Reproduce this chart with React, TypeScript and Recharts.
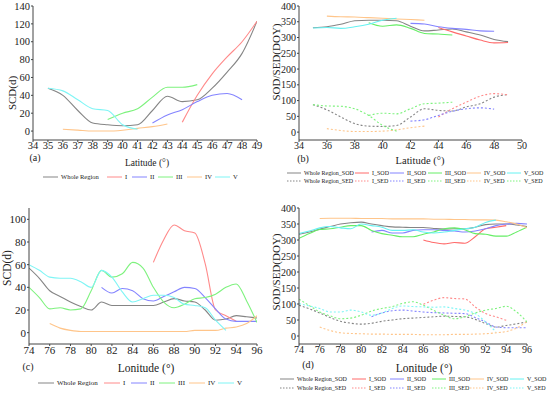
import { Line, LineChart, XAxis, YAxis } from "recharts";

// ---- latitude panels (a, b) ----
const latWhole = [35, 36, 37, 38, 39, 40, 41, 42, 43, 44, 45, 46, 47, 48, 49];
const latI = [44, 45, 46, 47, 48, 49];
const latII = [42, 43, 44, 45, 46, 47, 48];
const latIII = [39, 40, 41, 42, 43, 44, 45];
const latIV = [36, 37, 38, 39, 40, 41, 42, 43];
const latV = [35, 36, 37, 38, 39, 40, 41];
const latTicksA = [34, 35, 36, 37, 38, 39, 40, 41, 42, 43, 44, 45, 46, 47, 48, 49];
const latTicksB = [34, 36, 38, 40, 42, 44, 46, 48, 50];

const scdLatWhole = [48, 40, 23, 9, 7, 6, 7, 23, 39, 33, 35, 48, 66, 87, 123];
const scdLatI = [10, 40, 64, 83, 100, 123];
const scdLatII = [9, 18, 24, 33, 40, 42, 35];
const scdLatIII = [13, 20, 25, 38, 49, 49, 52];
const scdLatIV = [2, 1, 0, 0, 1, 3, 5, 8];
const scdLatV = [48, 45, 35, 25, 23, 7, 2];

const sodLatWhole = [331, 334, 342, 353, 355, 355, 353, 336, 321, 324, 327, 318, 308, 294, 287];
const sodLatI = [332, 318, 305, 292, 283, 284];
const sodLatII = [345, 343, 334, 329, 326, 321, 320];
const sodLatIII = [347, 336, 340, 329, 313, 311, 308];
const sodLatIV = [368, 366, 365, 363, 361, 359, 357, 355];
const sodLatV = [330, 332, 329, 334, 342, 355, 361];

const sedLatWhole = [87, 71, 48, 27, 19, 18, 21, 48, 74, 69, 67, 80, 90, 111, 119];
const sedLatI = [48, 74, 95, 114, 122, 118];
const sedLatII = [35, 39, 53, 66, 74, 77, 73];
const sedLatIII = [53, 60, 58, 74, 90, 92, 95];
const sedLatIV = [11, 5, 2, 2, 3, 7, 14, 19];
const sedLatV = [87, 83, 82, 74, 53, 21, 3];

// ---- longitude panels (c, d) ----
const lonWhole = [74, 75, 76, 77, 78, 79, 80, 81, 82, 83, 84, 85, 86, 87, 88, 89, 90, 91, 92, 93, 94, 95, 96];
const lonI = [86, 87, 88, 89, 90, 91, 92, 93, 94];
const lonII = [81, 82, 83, 84, 85, 86, 87, 88, 89, 90, 91, 92, 93, 94, 95, 96];
const lonIII = [74, 75, 76, 77, 78, 79, 80, 81, 82, 83, 84, 85, 86, 87, 88, 89, 90, 91, 92, 93, 94, 95, 96];
const lonIV = [76, 77, 78, 79, 80, 81, 82, 83, 84, 85, 86, 87, 88, 89, 90, 91, 92, 93, 94, 95, 96];
const lonV = [74, 75, 76, 77, 78, 79, 80, 81, 82, 83, 84, 85, 86, 87, 88, 89, 90, 91, 92, 93];
const lonTicks = [74, 76, 78, 80, 82, 84, 86, 88, 90, 92, 94, 96];

const scdLonWhole = [57, 48, 37, 32, 27, 23, 20, 27, 24, 24, 24, 24, 24, 27, 30, 28, 27, 20, 11, 12, 15, 14, 13];
const scdLonI = [62, 82, 95, 90, 88, 61, 20, 15, 10];
const scdLonII = [40, 35, 39, 37, 30, 28, 32, 36, 40, 39, 31, 21, 12, 10, 10, 10];
const scdLonIII = [40, 31, 21, 22, 20, 21, 37, 55, 49, 52, 62, 57, 40, 27, 22, 25, 30, 31, 34, 40, 43, 28, 9];
const scdLonIV = [8, 4, 2, 1, 1, 1, 1, 1, 1, 1, 1, 1, 1, 1, 2, 2, 2, 4, 5, 8, 15];
const scdLonV = [60, 55, 49, 48, 48, 45, 40, 55, 49, 36, 27, 30, 33, 33, 31, 25, 24, 22, 11, 2];

const sodLonWhole = [318, 325, 334, 342, 350, 354, 356, 350, 345, 341, 340, 339, 339, 336, 334, 335, 335, 340, 348, 350, 350, 347, 342];
const sodLonI = [300, 292, 288, 292, 290, 310, 335, 340, 345];
const sodLonII = [325, 330, 322, 322, 330, 332, 332, 330, 328, 325, 328, 335, 345, 350, 352, 350];
const sodLonIII = [305, 320, 333, 335, 340, 345, 345, 330, 320, 315, 310, 310, 318, 325, 335, 338, 332, 320, 318, 312, 312, 325, 340];
const sodLonIV = [367, 368, 368, 368, 367, 367, 367, 366, 366, 366, 366, 365, 365, 364, 364, 363, 363, 362, 357, 350, 338];
const sodLonV = [320, 328, 338, 342, 338, 335, 350, 345, 340, 330, 330, 332, 325, 322, 325, 330, 335, 340, 355, 362];

const sedLonWhole = [96, 85, 72, 58, 46, 40, 37, 40, 46, 50, 54, 56, 58, 60, 62, 61, 60, 52, 39, 28, 33, 38, 44];
const sedLonI = [99, 112, 120, 117, 116, 91, 70, 60, 49];
const sedLonII = [60, 72, 79, 81, 78, 75, 73, 72, 71, 70, 58, 44, 28, 26, 26, 26];
const sedLonIII = [115, 95, 75, 63, 54, 56, 65, 78, 86, 92, 102, 107, 96, 80, 65, 54, 60, 72, 81, 86, 93, 75, 44];
const sedLonIV = [28, 17, 10, 8, 7, 6, 6, 5, 5, 5, 4, 4, 4, 5, 5, 6, 7, 10, 14, 25, 45];
const sedLonV = [101, 94, 86, 75, 75, 81, 75, 65, 72, 86, 94, 92, 91, 90, 91, 86, 81, 70, 44, 13];

const font = "'Liberation Serif', 'DejaVu Serif', serif";
const ink = "#222";

const C = {
  whole: "#858585",
  I: "#ff8a8a",
  II: "#8484ff",
  III: "#7ef27e",
  IV: "#ffc58a",
  V: "#7ff5f5",
};

type Series = { name: string; data: { x: number; y: number }[]; color: string; dashed?: boolean };

const pts = (xs: number[], ys: number[]) => xs.map((x, i) => ({ x, y: ys[i] }));

const seriesA: Series[] = [
  { name: "Whole Region", data: pts(latWhole, scdLatWhole), color: C.whole },
  { name: "I", data: pts(latI, scdLatI), color: C.I },
  { name: "II", data: pts(latII, scdLatII), color: C.II },
  { name: "III", data: pts(latIII, scdLatIII), color: C.III },
  { name: "IV", data: pts(latIV, scdLatIV), color: C.IV },
  { name: "V", data: pts(latV, scdLatV), color: C.V },
];

const seriesB: Series[] = [
  { name: "Whole Region_SOD", data: pts(latWhole, sodLatWhole), color: C.whole },
  { name: "I_SOD", data: pts(latI, sodLatI), color: "#ff6b6b" },
  { name: "II_SOD", data: pts(latII, sodLatII), color: C.II },
  { name: "III_SOD", data: pts(latIII, sodLatIII), color: "#66ee66" },
  { name: "IV_SOD", data: pts(latIV, sodLatIV), color: C.IV },
  { name: "V_SOD", data: pts(latV, sodLatV), color: "#66f2f2" },
  { name: "Whole Region_SED", data: pts(latWhole, sedLatWhole), color: C.whole, dashed: true },
  { name: "I_SED", data: pts(latI, sedLatI), color: C.I, dashed: true },
  { name: "II_SED", data: pts(latII, sedLatII), color: C.II, dashed: true },
  { name: "III_SED", data: pts(latIII, sedLatIII), color: C.III, dashed: true },
  { name: "IV_SED", data: pts(latIV, sedLatIV), color: C.IV, dashed: true },
  { name: "V_SED", data: pts(latV, sedLatV), color: C.III, dashed: true },
];

const seriesC: Series[] = [
  { name: "Whole Region", data: pts(lonWhole, scdLonWhole), color: C.whole },
  { name: "I", data: pts(lonI, scdLonI), color: C.I },
  { name: "II", data: pts(lonII, scdLonII), color: C.II },
  { name: "III", data: pts(lonIII, scdLonIII), color: C.III },
  { name: "IV", data: pts(lonIV, scdLonIV), color: C.IV },
  { name: "V", data: pts(lonV, scdLonV), color: C.V },
];

const seriesD: Series[] = [
  { name: "Whole Region_SOD", data: pts(lonWhole, sodLonWhole), color: C.whole },
  { name: "I_SOD", data: pts(lonI, sodLonI), color: "#ff6b6b" },
  { name: "II_SOD", data: pts(lonII, sodLonII), color: C.II },
  { name: "III_SOD", data: pts(lonIII, sodLonIII), color: "#66ee66" },
  { name: "IV_SOD", data: pts(lonIV, sodLonIV), color: C.IV },
  { name: "V_SOD", data: pts(lonV, sodLonV), color: "#66f2f2" },
  { name: "Whole Region_SED", data: pts(lonWhole, sedLonWhole), color: C.whole, dashed: true },
  { name: "I_SED", data: pts(lonI, sedLonI), color: C.I, dashed: true },
  { name: "II_SED", data: pts(lonII, sedLonII), color: C.II, dashed: true },
  { name: "III_SED", data: pts(lonIII, sedLonIII), color: C.III, dashed: true },
  { name: "IV_SED", data: pts(lonIV, sedLonIV), color: C.IV, dashed: true },
  { name: "V_SED", data: pts(lonV, sedLonV), color: C.V, dashed: true },
];

function Txt({ px, py, size, text, rotate }: { px: number; py: number; size: number; text: string; rotate?: boolean }) {
  return (
    <text
      x={px}
      y={py}
      fontFamily={font}
      fontSize={size}
      fill={ink}
      textAnchor="middle"
      dominantBaseline="central"
      transform={rotate ? `rotate(-90 ${px} ${py})` : undefined}
    >
      {text}
    </text>
  );
}

function LegendItem({ s, left, top, size, len }: { s: Series; left: number; top: number; size: number; len: number }) {
  return (
    <div style={{ position: "absolute", left, top, display: "flex", alignItems: "center", whiteSpace: "nowrap" }}>
      <svg width={len} height={4} style={{ marginRight: 3 }}>
        <line x1={0} y1={2} x2={len} y2={2} stroke={s.color} strokeWidth={1} strokeDasharray={s.dashed ? "1.5 1.5" : undefined} />
      </svg>
      <span style={{ fontFamily: font, fontSize: size, color: ink, lineHeight: "8px" }}>{s.name}</span>
    </div>
  );
}

type PanelProps = {
  left: number;
  top: number;
  width: number;
  height: number;
  margin: { top: number; right: number; bottom: number; left: number };
  yWidth: number;
  xDomain: [number, number];
  xTicks: number[];
  yDomain: [number, number];
  yTicks: number[];
  tickSize: number;
  series: Series[];
  xTitle: React.ReactElement;
  yTitle: React.ReactElement;
};

function Panel(p: PanelProps) {
  const tick = { fontFamily: font, fontSize: p.tickSize, fill: ink };
  return (
    <div style={{ position: "absolute", left: p.left, top: p.top }}>
      <LineChart width={p.width} height={p.height} margin={p.margin}>
        <XAxis
          type="number"
          dataKey="x"
          domain={p.xDomain}
          ticks={p.xTicks}
          interval={0}
          allowDataOverflow
          tick={tick}
          tickSize={2}
          tickMargin={0}
          height={20}
          stroke="#444"
          label={p.xTitle}
        />
        <YAxis
          type="number"
          dataKey="y"
          domain={p.yDomain}
          ticks={p.yTicks}
          interval={0}
          allowDataOverflow
          tick={tick}
          tickSize={2}
          tickMargin={1}
          width={p.yWidth}
          stroke="#444"
          label={p.yTitle}
        />
        {p.series.map((s) => (
          <Line
            key={s.name}
            data={s.data}
            dataKey="y"
            name={s.name}
            type="monotone"
            stroke={s.color}
            strokeWidth={1.1}
            strokeDasharray={s.dashed ? "2 2" : undefined}
            dot={false}
            activeDot={false}
            isAnimationActive={false}
          />
        ))}
      </LineChart>
    </div>
  );
}

const colsB = [12, 80, 115, 153, 192, 232];
const colsD = [5, 77, 115, 157, 195, 235];
const colsA = [43, 107, 132, 158, 187, 215];
const colsC = [38, 104, 131, 159, 189, 218];

export default function App() {
  return (
    <div style={{ position: "absolute", left: 0, top: 0, width: 550, height: 394, background: "#fff", overflow: "hidden" }}>
      <Panel
        left={0}
        top={0}
        width={268}
        height={200}
        margin={{ top: 6, right: 11, bottom: 40, left: 0 }}
        yWidth={33}
        xDomain={[34, 49]}
        xTicks={latTicksA}
        yDomain={[-10, 140]}
        yTicks={[0, 20, 40, 60, 80, 100, 120, 140]}
        tickSize={10.5}
        series={seriesA}
        xTitle={
          <g>
            <Txt px={147} py={163} size={9.5} text="Latitude (°)" />
            <Txt px={35} py={157} size={10} text="(a)" />
          </g>
        }
        yTitle={<Txt px={12} py={93} size={11} text="SCD(d)" rotate />}
      />
      <Panel
        left={268}
        top={0}
        width={282}
        height={200}
        margin={{ top: 6, right: 28, bottom: 40, left: 0 }}
        yWidth={31}
        xDomain={[34, 50]}
        xTicks={latTicksB}
        yDomain={[-25, 400]}
        yTicks={[0, 50, 100, 150, 200, 250, 300, 350, 400]}
        tickSize={10}
        series={seriesB}
        xTitle={
          <g>
            <Txt px={152} py={160} size={10.5} text="Latitude (°)" />
            <Txt px={35} py={158} size={10} text="(b)" />
          </g>
        }
        yTitle={<Txt px={8} py={62} size={11} text="SOD/SED(DOY)" rotate />}
      />
      <Panel
        left={0}
        top={197}
        width={268}
        height={197}
        margin={{ top: 11, right: 11, bottom: 30, left: 0 }}
        yWidth={29}
        xDomain={[74, 96]}
        xTicks={lonTicks}
        yDomain={[-10, 110]}
        yTicks={[0, 20, 40, 60, 80, 100]}
        tickSize={11}
        series={seriesC}
        xTitle={
          <g>
            <Txt px={146} py={171} size={11.5} text="Lonitude (°)" />
            <Txt px={28} py={169} size={10} text="(c)" />
          </g>
        }
        yTitle={<Txt px={7} py={71} size={11.5} text="SCD(d)" rotate />}
      />
      <Panel
        left={268}
        top={197}
        width={282}
        height={197}
        margin={{ top: 11, right: 23, bottom: 30, left: 0 }}
        yWidth={31}
        xDomain={[74, 96]}
        xTicks={lonTicks}
        yDomain={[-25, 400]}
        yTicks={[0, 50, 100, 150, 200, 250, 300, 350, 400]}
        tickSize={10}
        series={seriesD}
        xTitle={
          <g>
            <Txt px={156} py={171} size={11.5} text="Lonitude (°)" />
            <Txt px={40} py={167} size={10} text="(d)" />
          </g>
        }
        yTitle={<Txt px={8} py={75} size={11} text="SOD/SED(DOY)" rotate />}
      />

      {seriesA.map((s, i) => (
        <LegendItem key={"a" + s.name} s={s} left={colsA[i]} top={173} size={6.5} len={15} />
      ))}
      {seriesB.map((s, i) => (
        <LegendItem key={"b" + s.name} s={s} left={275 + colsB[i % 6]} top={i < 6 ? 169 : 177} size={6} len={14} />
      ))}
      {seriesC.map((s, i) => (
        <LegendItem key={"c" + s.name} s={s} left={colsC[i]} top={379} size={7} len={16} />
      ))}
      {seriesD.map((s, i) => (
        <LegendItem key={"d" + s.name} s={s} left={275 + colsD[i % 6]} top={i < 6 ? 375 : 384} size={6} len={14} />
      ))}
    </div>
  );
}
